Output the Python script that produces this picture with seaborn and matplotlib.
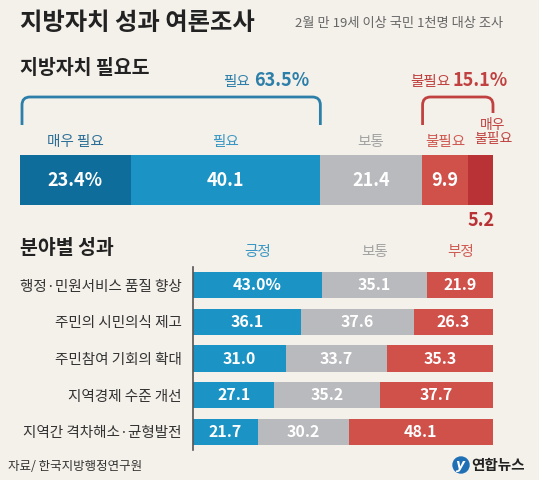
import numpy as np
import pandas as pd
import matplotlib.pyplot as plt
import seaborn as sns
from matplotlib.path import Path
from matplotlib.patches import PathPatch, Circle

# data
need_labels = ['매우 필요', '필요', '보통', '불필요', '매우\n불필요']
need_values = [23.4, 40.1, 21.4, 9.9, 5.2]

fields = ['행정·민원서비스 품질 향상', '주민의 시민의식 제고', '주민참여 기회의 확대',
          '지역경제 수준 개선', '지역간 격차해소·균형발전']
eval_labels = ['긍정', '보통', '부정']
positive = [43.0, 36.1, 31.0, 27.1, 21.7]
neutral = [35.1, 37.6, 33.7, 35.2, 30.2]
negative = [21.9, 26.3, 35.3, 37.7, 48.1]

BG = '#f4f0ea'
need_colors = ['#0f6d9b', '#1b93c4', '#b9babd', '#d0504a', '#b83236']
need_text = ['#2b6f96', '#3a97c4', '#a3a3a3', '#cf5a52', '#c0413f']
eval_colors = ['#1b93c4', '#b9babd', '#d0504a']
eval_text = ['#3a97c4', '#a3a3a3', '#cf5a52']

sns.set_theme(style='white')
plt.rcParams['font.family'] = ['Noto Sans CJK KR', 'DejaVu Sans']

W, H = 539, 480
fig = plt.figure(figsize=(W / 100, H / 100), dpi=100)
fig.patch.set_facecolor(BG)


def box(x0, y0, x1, y1):
    # pixel box -> figure fraction rect
    return [x0 / W, 1 - y1 / H, (x1 - x0) / W, (y1 - y0) / H]


# ---- top stacked bar ----
bx0, bx1 = 20, 493
ax1 = fig.add_axes(box(bx0, 155, bx1, 205))
ax1.set_facecolor('none')
cum = np.cumsum(need_values)
for i in reversed(range(len(need_values))):
    sns.barplot(x=[cum[i]], y=['필요도'], orient='h', color=need_colors[i],
                saturation=1, width=1, linewidth=0, errorbar=None, ax=ax1)
ax1.set_xlim(0, 100)
ax1.set_ylim(0.5, -0.5)
ax1.axis('off')
starts = cum - np.array(need_values)
for i, v in enumerate(need_values[:4]):
    lab = f'{v:.1f}%' if i == 0 else f'{v:.1f}'
    ax1.text(starts[i] + v / 2, 0, lab, ha='center', va='center',
             color='white', fontsize=13, fontweight='bold')

# ---- bottom stacked bars ----
ax2 = fig.add_axes(box(193, 267, 493, 450))
ax2.set_facecolor('none')
df = pd.DataFrame({'field': fields, '긍정': positive, '보통': neutral, '부정': negative})
parts = df[eval_labels].to_numpy()
cum2 = parts.cumsum(axis=1)
for j in reversed(range(3)):
    sns.barplot(x=cum2[:, j], y=df['field'], orient='h', color=eval_colors[j],
                saturation=1, width=0.72, linewidth=0, errorbar=None, ax=ax2)
ax2.set_xlim(0, 100)
ax2.set_ylim(4.5, -0.5)
ax2.set_xlabel('')
ax2.set_ylabel('')
ax2.set_xticks([])
ax2.tick_params(axis='y', length=0, pad=8, labelsize=10.5, labelcolor='#333333')
for s in ['top', 'right', 'bottom']:
    ax2.spines[s].set_visible(False)
ax2.spines['left'].set_color('#555555')
ax2.spines['left'].set_linewidth(1.2)
for r in range(len(fields)):
    for j in range(3):
        v = parts[r, j]
        lab = f'{v:.1f}%' if (r == 0 and j == 0) else f'{v:.1f}'
        ax2.text(cum2[r, j] - v / 2, r, lab, ha='center', va='center',
                 color='white', fontsize=11.5, fontweight='bold')
# column headers over first row
for j in range(3):
    ax2.text(cum2[0, j] - parts[0, j] / 2, -0.72, eval_labels[j], ha='center',
             va='bottom', color=eval_text[j], fontsize=10.5)

# ---- overlay for titles and brackets (pixel coords) ----
ov = fig.add_axes([0, 0, 1, 1])
ov.set_xlim(0, W)
ov.set_ylim(H, 0)
ov.axis('off')
ov.patch.set_alpha(0)

ov.text(20, 23, '지방자치 성과 여론조사', fontsize=17.5, fontweight='bold',
        color='#222222', va='center')
ov.text(503, 23, '2월 만 19세 이상 국민 1천명 대상 조사', fontsize=9.5,
        color='#666666', va='center', ha='right')
ov.text(20, 69, '지방자치 필요도', fontsize=14, fontweight='bold',
        color='#222222', va='center')
ov.text(20, 248, '분야별 성과', fontsize=14, fontweight='bold',
        color='#222222', va='center')


def px(v):
    return bx0 + v / 100 * (bx1 - bx0)


# category labels above top bar
for i, lab in enumerate(need_labels):
    if i < 4:
        ov.text(px(starts[i] + need_values[i] / 2), 142, lab, ha='center',
                va='center', fontsize=10.5, color=need_text[i])
    else:
        ov.text(px(cum[i]), 132, lab, ha='center', va='center', fontsize=10,
                color=need_text[i], linespacing=1.05)
ov.text(px(starts[4] + need_values[4] / 2), 220, f'{need_values[4]:.1f}',
        ha='center', va='center', fontsize=13, fontweight='bold', color='#b83236')


def bracket(x0, x1, top, yl, yr, color):
    r = 8
    verts = [(x0, yl), (x0, top + r), (x0, top), (x0 + r, top),
             (x1 - r, top), (x1, top), (x1, top + r), (x1, yr)]
    codes = [Path.MOVETO, Path.LINETO, Path.CURVE3, Path.CURVE3,
             Path.LINETO, Path.CURVE3, Path.CURVE3, Path.LINETO]
    ov.add_patch(PathPatch(Path(verts, codes), fill=False, edgecolor=color,
                           linewidth=2, capstyle='butt'))


need_sum = need_values[0] + need_values[1]
bad_sum = need_values[3] + need_values[4]
bracket(px(0) + 2, px(need_sum), 97, 125, 125, '#2b7fa8')
bracket(px(100 - bad_sum) + 1, px(100), 97, 125, 113, '#c0413f')

ov.text(250, 82, '필요', ha='right', va='center', fontsize=10.5, color='#2b7fa8')
ov.text(254, 81, f'{need_sum:.1f}%', ha='left', va='center', fontsize=13,
        fontweight='bold', color='#2b7fa8')
ov.text(450, 82, '불필요', ha='right', va='center', fontsize=10.5, color='#c0413f')
ov.text(453, 81, f'{bad_sum:.1f}%', ha='left', va='center', fontsize=13,
        fontweight='bold', color='#c0413f')

# footer
ov.text(8, 467, '자료/ 한국지방행정연구원', fontsize=9, color='#333333',
        va='center', style='italic')
ov.add_patch(Circle((461, 465), 8, color='#1f6fb5'))
ov.text(461, 465, 'y', ha='center', va='center', fontsize=10, color='white',
        style='italic', fontweight='bold', family='DejaVu Sans')
ov.text(471, 465, '연합뉴스', ha='left', va='center', fontsize=10.5,
        fontweight='bold', color='#222222')

fig.savefig('out.png', dpi=100, facecolor=BG)
